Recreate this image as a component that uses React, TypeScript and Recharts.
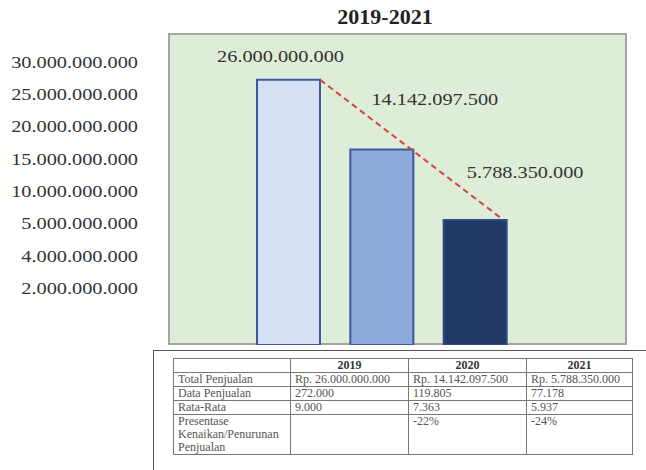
import { BarChart, Bar, XAxis, YAxis, ReferenceLine, LabelList, Cell } from 'recharts'

const years = ['2019', '2020', '2021']
const totalSales = [26000000000, 14142097500, 5788350000]
const salesCount = ['272.000', '119.805', '77.178']
const averages = ['9.000', '7.363', '5.937']
const changePct = ['', '-22%', '-24%']
const yTickLabels = [30000000000, 25000000000, 20000000000, 15000000000, 10000000000, 5000000000, 4000000000, 2000000000]

const barFills = ['#d6e0f4', '#8eaadc', '#1f3864']
const barStrokes = ['#3c5a99', '#3c5a99', '#2e4a86']
// where each value label sits, relative to the top centre of its bar
const labelShift = [[-8, -23], [53, -50], [50, -47]]

const serif = 'Liberation Serif, serif'
const fmt = (v: number) => String(v).replace(/\B(?=(\d{3})+(?!\d))/g, '.')

const chartData = years.map((year, i) => ({ year, total: totalSales[i] }))

function StretchText({ x, y, anchor, children }: any) {
  return (
    <g transform={`translate(${x},${y}) scale(1.27,1)`} style={{ fontFamily: serif }}>
      <text x={0} y={0} dy="0.35em" textAnchor={anchor} fill="#333" fontFamily={serif} fontSize={16} style={{ fontFamily: serif, fontSize: 16 }}>
        {children}
      </text>
    </g>
  )
}

function YLabel({ x, y, payload }: any) {
  const v = yTickLabels[yTickLabels.length - payload.value]
  if (v == null) return null
  return <StretchText x={x} y={y} anchor="end">{fmt(v)}</StretchText>
}

function renderValueLabel(props: any) {
  const vb = props.viewBox || props
  const x = vb.x ?? props.x
  const y = vb.y ?? props.y
  const width = vb.width ?? props.width
  const i = totalSales.indexOf(props.value)
  if (i < 0 || x == null) return null
  const [dx, dy] = labelShift[i]
  return (
    <StretchText key={i} x={x + width / 2 + dx} y={y + dy} anchor="middle">
      {fmt(props.value)}
    </StretchText>
  )
}

const cell: React.CSSProperties = { border: '1px solid #777', padding: '0 4px', verticalAlign: 'top' }

export default function App() {
  return (
    <div style={{ position: 'absolute', left: 0, top: 0, width: 646, height: 470, overflow: 'hidden', background: '#fff', fontFamily: serif }}>
      <div style={{ position: 'absolute', left: 285, top: 5, width: 200, textAlign: 'center', fontWeight: 'bold', fontSize: 22, lineHeight: '24px', color: '#222' }}>
        2019-2021
      </div>
      <div style={{ position: 'absolute', left: 168, top: 33, width: 459, height: 312, boxSizing: 'border-box', background: '#deedd8', border: '2px solid #a2a6a0' }} />
      <div style={{ position: 'absolute', left: 0, top: 0 }}>
        <BarChart width={646} height={360} data={chartData} margin={{ top: 33, right: 19, bottom: 15, left: 0 }} style={{ fontFamily: serif }}>
          <XAxis dataKey="year" hide padding={{ left: 74, right: 105 }} />
          <YAxis yAxisId="val" hide scale="sqrt" type="number" domain={[0, 36000000000]} allowDataOverflow />
          <YAxis
            yAxisId="lbl"
            type="number"
            width={168}
            domain={[-0.75, 8.9]}
            allowDataOverflow
            ticks={yTickLabels.map((_, i) => yTickLabels.length - i)}
            interval={0}
            axisLine={false}
            tickLine={false}
            tickSize={0}
            tickMargin={30}
            tick={<YLabel />}
          />
          <Bar yAxisId="val" dataKey="total" barSize={63} strokeWidth={2} isAnimationActive={false}>
            {chartData.map((d, i) => (
              <Cell key={d.year} fill={barFills[i]} stroke={barStrokes[i]} />
            ))}
            <LabelList dataKey="total" content={renderValueLabel} />
          </Bar>
          <ReferenceLine
            yAxisId="val"
            ifOverflow="visible"
            segment={[{ x: years[0], y: totalSales[0] }, { x: years[2], y: totalSales[2] }]}
            stroke="#d9423e"
            strokeWidth={2}
            strokeDasharray="6 4"
            shape={(p: any) => (
              <line x1={p.x1 + 31.5} y1={p.y1} x2={p.x2 + 28} y2={p.y2} stroke="#d9423e" strokeWidth={2} strokeDasharray="6 4" />
            )}
          />
        </BarChart>
      </div>
      <div style={{ position: 'absolute', left: 153, top: 350, width: 600, height: 200, border: '1.5px solid #555' }} />
      <table style={{ position: 'absolute', left: 173, top: 358, width: 459, borderCollapse: 'collapse', fontSize: 12, lineHeight: '13px', color: '#555', tableLayout: 'fixed' }}>
        <colgroup>
          <col style={{ width: 117 }} />
          <col style={{ width: 118 }} />
          <col style={{ width: 118 }} />
          <col style={{ width: 106 }} />
        </colgroup>
        <tbody>
          <tr>
            <td style={cell}></td>
            {years.map((y) => (
              <td key={y} style={{ ...cell, textAlign: 'center', fontWeight: 'bold', color: '#333' }}>{y}</td>
            ))}
          </tr>
          <tr>
            <td style={cell}>Total Penjualan</td>
            {totalSales.map((v, i) => (
              <td key={i} style={cell}>Rp. {fmt(v)}</td>
            ))}
          </tr>
          <tr>
            <td style={cell}>Data Penjualan</td>
            {salesCount.map((v, i) => (
              <td key={i} style={cell}>{v}</td>
            ))}
          </tr>
          <tr>
            <td style={cell}>Rata-Rata</td>
            {averages.map((v, i) => (
              <td key={i} style={cell}>{v}</td>
            ))}
          </tr>
          <tr>
            <td style={cell}>Presentase<br />Kenaikan/Penurunan<br />Penjualan</td>
            {changePct.map((v, i) => (
              <td key={i} style={cell}>{v}</td>
            ))}
          </tr>
        </tbody>
      </table>
    </div>
  )
}
